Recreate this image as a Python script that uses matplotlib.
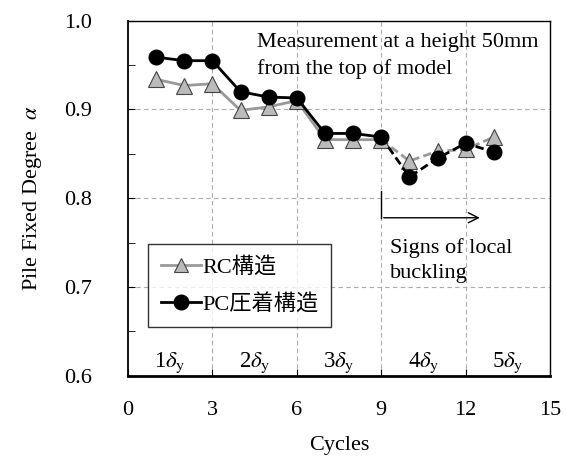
import matplotlib
matplotlib.use("Agg")
import matplotlib.pyplot as plt

plt.rcParams['font.family'] = ['Liberation Serif', 'Noto Sans CJK JP']
plt.rcParams['mathtext.fontset'] = 'stix'

cycles = [1, 2, 3, 4, 5, 6, 7, 8, 9, 10, 11, 12, 13]
rc_vals = [0.934, 0.927, 0.929, 0.899, 0.903, 0.910, 0.866, 0.866, 0.866, 0.842, 0.853, 0.855, 0.869]
pc_vals = [0.959, 0.955, 0.955, 0.920, 0.914, 0.913, 0.873, 0.873, 0.869, 0.824, 0.845, 0.862, 0.852]
series_names = ['RC構造', 'PC圧着構造']
amp_labels = ['1', '2', '3', '4', '5']
amp_centers = [1.5, 4.5, 7.5, 10.5, 13.5]
split = 9  # solid up to cycle 9, dashed afterwards

fig = plt.figure(figsize=(5.66, 4.61), dpi=100)
ax = fig.add_axes([0.226, 0.185, 0.746, 0.770])

ax.set_xlim(0, 15)
ax.set_ylim(0.6, 1.0)
ax.set_xticks([0, 3, 6, 9, 12, 15])
ax.set_yticks([0.6, 0.7, 0.8, 0.9, 1.0])
ax.set_yticks([0.65, 0.75, 0.85, 0.95], minor=True)
ax.set_yticklabels(['0.6', '0.7', '0.8', '0.9', '1.0'])
ax.tick_params(axis='both', direction='in', labelsize=16, length=5)
ax.tick_params(axis='y', which='minor', direction='in', length=5)
ax.tick_params(axis='y', pad=26)
ax.tick_params(axis='x', pad=18)

for x in [3, 6, 9, 12]:
    ax.axvline(x, color='#aaaaaa', lw=0.8, ls=(0, (4, 3)), zorder=0)
for y in [0.7, 0.8, 0.9]:
    ax.axhline(y, color='#aaaaaa', lw=0.8, ls=(0, (4, 3)), zorder=0)

for s in ['top', 'right']:
    ax.spines[s].set_linewidth(1.0)
ax.spines['left'].set_linewidth(1.3)
ax.spines['bottom'].set_linewidth(2.0)

i = cycles.index(split) + 1
# RC
ax.plot(cycles[:i], rc_vals[:i], color='#999999', lw=2.0, zorder=2)
ax.plot(cycles[i-1:], rc_vals[i-1:], color='#999999', lw=2.0, ls=(0, (3, 1.5)), zorder=2)
ax.plot(cycles, rc_vals, ls='none', marker='^', ms=11.5, mfc='#bbbbbb', mec='#444444', mew=0.8, zorder=3)
# PC
ax.plot(cycles[:i], pc_vals[:i], color='black', lw=2.0, zorder=4)
ax.plot(cycles[i-1:], pc_vals[i-1:], color='black', lw=2.0, ls=(0, (3, 1.5)), zorder=4)
ax.plot(cycles, pc_vals, ls='none', marker='o', ms=10.5, mfc='black', mec='black', zorder=5)

# legend proxies
h1, = ax.plot([], [], color='#999999', lw=2.0, marker='^', ms=10, mfc='#bbbbbb', mec='#444444', mew=0.8)
h2, = ax.plot([], [], color='black', lw=2.0, marker='o', ms=10.5, mfc='black')
leg = ax.legend([h1, h2], series_names, loc='lower left', bbox_to_anchor=(0.022, 0.105),
                fontsize=16, frameon=True, fancybox=False, edgecolor='black',
                handlelength=1.8, handletextpad=0.1, borderpad=0.55, labelspacing=0.75)
leg.get_frame().set_linewidth(1.0)

for lab, xc in zip(amp_labels, amp_centers):
    ax.text(xc, 0.61, lab + r'$\delta_{\mathrm{y}}$', ha='center', va='baseline', fontsize=16.5)

ax.text(4.6, 0.986, 'Measurement at a height 50mm\nfrom the top of model', ha='left', va='top',
        fontsize=16, linespacing=1.45)

# arrow for buckling
ax.plot([9, 9], [0.808, 0.778], color='black', lw=1.0)
ax.annotate('', xy=(12.6, 0.778), xytext=(8.99, 0.778),
            arrowprops=dict(arrowstyle='->', color='black', lw=1.0, mutation_scale=18))
ax.text(9.3, 0.755, 'Signs of local\nbuckling', ha='left', va='top', fontsize=16, linespacing=1.45)

ax.set_xlabel('Cycles', fontsize=16, labelpad=12)
ax.set_ylabel(r'Pile Fixed Degree  $\alpha$', fontsize=16, labelpad=14)

fig.savefig('out.png', dpi=100)
